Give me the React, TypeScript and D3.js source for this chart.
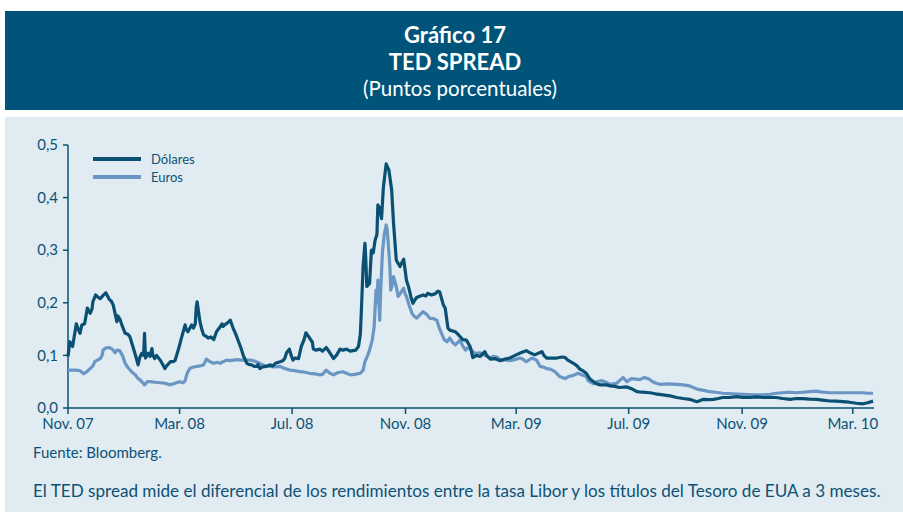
import React from "react";
import * as d3 from "d3";

// Time is given as days since 1 Nov 2007
const startDate = Date.UTC(2007, 10, 1);

const dolaresDay = [0,2,5,9,11,13,15,18,21,24,26,27,30,33,35,38,41,45,47,49,53,54,56,59,62,65,67,71,74,76,78,80,82,83,84,87,89,91,92,94,96,100,102,105,107,111,114,116,120,123,127,128,130,134,136,138,139,140,141,143,145,147,150,152,155,158,161,164,167,168,170,173,176,179,182,185,188,190,194,196,199,202,205,206,208,211,215,219,222,225,230,233,235,237,240,242,244,246,250,253,256,258,260,262,265,266,269,273,276,280,284,288,291,295,298,302,306,309,312,315,317,318,320,322,323,324,325,327,329,331,333,335,336,338,340,342,345,346,348,351,353,356,358,360,362,364,367,369,371,372,374,376,378,382,385,388,390,394,398,401,403,407,409,412,414,420,423,425,428,432,436,439,443,447,452,454,458,463,468,474,479,486,491,497,501,506,510,514,516,519,525,530,536,539,542,548,552,555,559,562,566,570,573,577,584,588,593,598,606,609,613,617,623,631,637,645,653,660,667,674,682,685,689,694,700,705,710,718,725,732,739,747,754,761,768,775,783,790,797,804,812,818,826,833,840,847,855,862,867,873];
const dolaresValue = [0.098,0.126,0.117,0.16,0.15,0.142,0.158,0.16,0.19,0.18,0.188,0.202,0.215,0.21,0.208,0.214,0.219,0.206,0.203,0.196,0.164,0.175,0.17,0.155,0.142,0.14,0.136,0.113,0.095,0.082,0.097,0.104,0.1,0.142,0.095,0.104,0.098,0.113,0.1,0.094,0.1,0.091,0.085,0.075,0.08,0.088,0.088,0.09,0.113,0.133,0.158,0.15,0.145,0.158,0.152,0.16,0.19,0.202,0.19,0.165,0.15,0.139,0.136,0.133,0.135,0.13,0.145,0.152,0.16,0.155,0.158,0.162,0.167,0.152,0.14,0.126,0.112,0.1,0.085,0.083,0.082,0.079,0.079,0.083,0.075,0.078,0.079,0.082,0.08,0.085,0.088,0.09,0.094,0.105,0.112,0.1,0.091,0.095,0.094,0.117,0.13,0.143,0.138,0.133,0.125,0.112,0.11,0.112,0.108,0.115,0.105,0.094,0.1,0.112,0.11,0.112,0.108,0.109,0.11,0.117,0.14,0.18,0.27,0.313,0.28,0.231,0.233,0.237,0.3,0.295,0.319,0.33,0.386,0.38,0.36,0.42,0.464,0.46,0.452,0.414,0.351,0.281,0.275,0.269,0.276,0.283,0.243,0.232,0.218,0.21,0.199,0.205,0.21,0.213,0.215,0.213,0.218,0.215,0.217,0.222,0.221,0.196,0.19,0.152,0.148,0.145,0.14,0.136,0.13,0.129,0.117,0.096,0.1,0.098,0.107,0.1,0.093,0.094,0.09,0.093,0.095,0.101,0.105,0.109,0.105,0.101,0.104,0.107,0.1,0.095,0.095,0.095,0.097,0.096,0.091,0.085,0.08,0.074,0.07,0.066,0.055,0.05,0.046,0.044,0.044,0.042,0.041,0.039,0.04,0.038,0.035,0.031,0.03,0.029,0.027,0.025,0.023,0.02,0.018,0.0165,0.012,0.014,0.0165,0.016,0.0165,0.018,0.02,0.02,0.0215,0.02,0.02,0.021,0.02,0.02,0.02,0.018,0.0165,0.018,0.018,0.017,0.0165,0.015,0.0133,0.013,0.012,0.011,0.009,0.008,0.01,0.013];

const eurosDay = [0,8,13,17,21,24,27,29,33,35,37,38,41,44,47,49,51,53,56,59,62,65,69,73,76,79,83,86,89,94,100,105,111,116,121,125,127,129,132,136,140,143,147,150,154,158,162,165,168,172,176,183,189,194,197,201,204,208,211,215,219,224,230,235,241,246,252,257,262,268,273,276,280,284,288,292,295,298,302,306,311,317,320,322,325,327,330,332,334,335,336,338,339,341,343,345,346,347,349,350,351,353,356,358,361,364,365,367,370,373,375,378,382,385,389,392,396,400,402,405,408,411,414,417,420,423,425,428,431,434,436,441,447,452,458,461,465,470,474,479,485,490,493,497,503,508,512,515,519,523,528,533,539,543,548,553,559,562,564,570,573,579,582,588,595,598,602,606,611,616,620,625,630,634,638,642,650,660,667,674,682,688,696,702,710,721,732,742,754,761,768,775,783,790,797,804,812,818,826,837,845,854,862,867,873];
const eurosValue = [0.072,0.072,0.071,0.065,0.07,0.075,0.08,0.088,0.092,0.094,0.1,0.11,0.114,0.115,0.113,0.11,0.105,0.11,0.109,0.1,0.085,0.077,0.069,0.063,0.056,0.052,0.044,0.05,0.05,0.049,0.048,0.047,0.044,0.047,0.05,0.048,0.052,0.065,0.075,0.078,0.079,0.08,0.082,0.093,0.088,0.085,0.087,0.085,0.088,0.091,0.09,0.092,0.091,0.091,0.091,0.09,0.088,0.085,0.082,0.08,0.079,0.078,0.079,0.075,0.072,0.071,0.069,0.068,0.066,0.065,0.063,0.064,0.072,0.066,0.063,0.067,0.068,0.069,0.066,0.063,0.064,0.066,0.072,0.088,0.1,0.11,0.13,0.155,0.224,0.2,0.243,0.167,0.22,0.297,0.33,0.348,0.34,0.319,0.27,0.224,0.23,0.25,0.23,0.212,0.22,0.228,0.22,0.212,0.195,0.18,0.175,0.171,0.178,0.183,0.178,0.171,0.17,0.167,0.155,0.142,0.13,0.126,0.133,0.125,0.12,0.125,0.129,0.118,0.11,0.115,0.113,0.104,0.105,0.1,0.095,0.098,0.097,0.09,0.092,0.09,0.092,0.095,0.093,0.088,0.095,0.091,0.079,0.078,0.075,0.074,0.069,0.06,0.056,0.06,0.062,0.066,0.062,0.06,0.052,0.046,0.05,0.052,0.05,0.045,0.047,0.052,0.058,0.05,0.056,0.055,0.054,0.058,0.055,0.05,0.047,0.045,0.046,0.045,0.044,0.042,0.036,0.034,0.031,0.03,0.028,0.027,0.026,0.025,0.025,0.026,0.028,0.029,0.03,0.029,0.03,0.031,0.032,0.03,0.029,0.029,0.029,0.029,0.029,0.028,0.028];

const seriesNames = ["Dólares", "Euros"];
const xTickDates = ["2007-11-01","2008-03-01","2008-07-01","2008-11-01","2009-03-01","2009-07-01","2009-11-01","2010-03-01"];
const xTickLabels = ["Nov. 07","Mar. 08","Jul. 08","Nov. 08","Mar. 09","Jul. 09","Nov. 09","Mar. 10"];
const yTicks = [0, 0.1, 0.2, 0.3, 0.4, 0.5];

const titleLines = ["Gráfico 17", "TED SPREAD", "(Puntos porcentuales)"];
const sourceText = "Fuente: Bloomberg.";
const noteText = "El TED spread mide el diferencial de los rendimientos entre la tasa Libor y los títulos del Tesoro de EUA a 3 meses.";

const DARK = "#00547a";
const AXIS = "#0d5274";
const C_DOL = "#0a5073";
const C_EUR = "#6a96c4";
const FONT = "Lato, 'Open Sans', sans-serif";

export default function App() {
  const W = 903, H = 512;
  const x = d3.scaleUtc()
    .domain([new Date(startDate), new Date(Date.UTC(2010, 2, 24))])
    .range([68, 874]);
  const y = d3.scaleLinear().domain([0, 0.5]).range([408, 145]);
  const toDate = (d: number) => new Date(startDate + d * 86400000);

  const line = d3.line<[number, number]>()
    .x((p) => x(toDate(p[0])))
    .y((p) => y(p[1]));

  const dol: [number, number][] = dolaresDay.map((d, i) => [d, dolaresValue[i]]);
  const eur: [number, number][] = eurosDay.map((d, i) => [d, eurosValue[i]]);
  const fmt = (v: number) => v.toFixed(1).replace(".", ",");

  return (
    <svg width={W} height={H} style={{ position: "absolute", left: 0, top: 0 }} fontFamily={FONT}>
      <rect x={0} y={0} width={W} height={H} fill="#ffffff" />
      <rect x={5} y={11} width={898} height={99} fill={DARK} />
      <text x={455} y={43} textAnchor="middle" fill="#fff" fontWeight="bold" fontSize={22}>{titleLines[0]}</text>
      <text x={455} y={70} textAnchor="middle" fill="#fff" fontWeight="bold" fontSize={22}>{titleLines[1]}</text>
      <text x={460} y={96} textAnchor="middle" fill="#fff" fontSize={20.5}>{titleLines[2]}</text>
      <rect x={5} y={117} width={898} height={395} fill="#e1ebf2" />

      {/* y axis */}
      <line x1={68} x2={68} y1={y(0.5)} y2={y(0)} stroke={AXIS} strokeWidth={1.5} />
      {yTicks.map((t) => (
        <g key={t}>
          <line x1={63} x2={68} y1={y(t)} y2={y(t)} stroke={AXIS} strokeWidth={1.5} />
          <text x={58} y={y(t)} dy="0.35em" textAnchor="end" fill={AXIS} fontSize={15}>{fmt(t)}</text>
        </g>
      ))}
      {/* x axis */}
      <line x1={68} x2={874} y1={y(0)} y2={y(0)} stroke={AXIS} strokeWidth={1.5} />
      {xTickDates.map((d, i) => {
        const px = x(new Date(d + "T00:00:00Z"));
        return (
          <g key={d}>
            <line x1={px} x2={px} y1={408} y2={414} stroke={AXIS} strokeWidth={1.5} />
            <text x={px} y={429} textAnchor="middle" fill={AXIS} fontSize={15}>{xTickLabels[i]}</text>
          </g>
        );
      })}

      <path d={line(eur) || ""} fill="none" stroke={C_EUR} strokeWidth={3.2} strokeLinejoin="round" />
      <path d={line(dol) || ""} fill="none" stroke={C_DOL} strokeWidth={3.2} strokeLinejoin="round" />

      {/* legend */}
      <line x1={93} x2={141} y1={159} y2={159} stroke={C_DOL} strokeWidth={4} />
      <text x={151} y={159} dy="0.35em" fill={AXIS} fontSize={13}>{seriesNames[0]}</text>
      <line x1={93} x2={141} y1={177} y2={177} stroke={C_EUR} strokeWidth={4} />
      <text x={151} y={177} dy="0.35em" fill={AXIS} fontSize={13}>{seriesNames[1]}</text>

      <text x={33} y={458} fill={AXIS} fontSize={15}>{sourceText}</text>
      <text x={33} y={497} fill={AXIS} fontSize={17.1}>{noteText}</text>
    </svg>
  );
}
